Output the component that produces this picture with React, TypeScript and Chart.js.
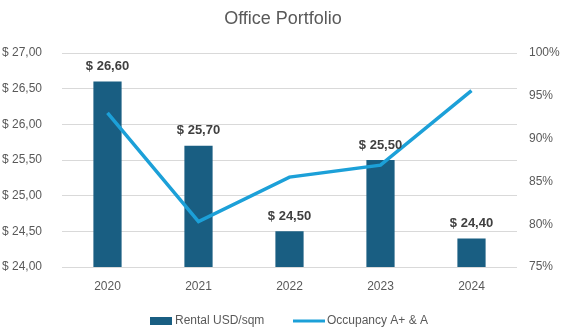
import React, { useEffect, useRef } from "react";
import { Chart, registerables } from "chart.js";

Chart.register(...registerables);

const years = ["2020", "2021", "2022", "2023", "2024"];
const rental = [26.6, 25.7, 24.5, 25.5, 24.4];
const occupancy = [0.93, 0.803, 0.855, 0.869, 0.956];
const titleText = "Office Portfolio";
const rentalLabel = "Rental USD/sqm";
const occLabel = "Occupancy A+ & A";

const BAR = "#195E82";
const LINE = "#1CA0D8";
const TXT = "#595959";
const FONT = "'Liberation Sans', Arial, sans-serif";

const fmtMoney = (v: number) => "$ " + v.toFixed(2).replace(".", ",");

const customPlugin = {
  id: "custom",
  afterDatasetsDraw(chart: any) {
    const ctx = chart.ctx;
    const meta = chart.getDatasetMeta(0);
    ctx.save();
    ctx.fillStyle = "#404040";
    ctx.font = `bold 13px ${FONT}`;
    ctx.textAlign = "center";
    ctx.textBaseline = "middle";
    meta.data.forEach((bar: any, i: number) => {
      ctx.fillText(fmtMoney(rental[i]), bar.x, bar.y - 15);
    });
    ctx.restore();
  },
  afterDraw(chart: any) {
    const ctx = chart.ctx;
    ctx.save();
    ctx.fillStyle = TXT;
    ctx.font = `18px ${FONT}`;
    ctx.textAlign = "center";
    ctx.textBaseline = "middle";
    ctx.fillText(titleText, 283, 19);
    const y = 321;
    ctx.font = `12px ${FONT}`;
    ctx.textAlign = "left";
    ctx.fillStyle = BAR;
    ctx.fillRect(150, y - 4, 22, 8);
    ctx.fillStyle = TXT;
    ctx.fillText(rentalLabel, 175, y);
    ctx.strokeStyle = LINE;
    ctx.lineWidth = 3;
    ctx.beginPath();
    ctx.moveTo(293, y);
    ctx.lineTo(325, y);
    ctx.stroke();
    ctx.fillText(occLabel, 327, y);
    ctx.restore();
  },
};

export default function App() {
  const ref = useRef<HTMLCanvasElement>(null);
  useEffect(() => {
    document.body.style.margin = "0";
    const chart = new Chart(ref.current!, {
      data: {
        labels: years,
        datasets: [
          {
            type: "bar",
            label: rentalLabel,
            data: rental,
            backgroundColor: BAR,
            yAxisID: "y",
            barPercentage: 0.31,
            categoryPercentage: 1,
            order: 2,
          },
          {
            type: "line",
            label: occLabel,
            data: occupancy,
            borderColor: LINE,
            backgroundColor: LINE,
            borderWidth: 3.5,
            pointRadius: 0,
            tension: 0,
            yAxisID: "y1",
            order: 1,
          },
        ],
      } as any,
      options: {
        animation: false,
        responsive: false,
        layout: { padding: { top: 53, bottom: 38, left: 0, right: 0 } },
        plugins: { legend: { display: false }, title: { display: false }, tooltip: { enabled: false } },
        scales: {
          x: {
            grid: { display: false },
            border: { display: false },
            ticks: { color: TXT, font: { size: 12, family: FONT }, padding: 4 },
            afterFit: (s: any) => { s.height = 30; },
          },
          y: {
            position: "left",
            min: 24,
            max: 27,
            ticks: {
              stepSize: 0.5,
              color: TXT,
              font: { size: 12, family: FONT },
              callback: (v: any) => fmtMoney(Number(v)),
              padding: 20,
            },
            grid: { color: "#D9D9D9", drawTicks: false },
            border: { display: false },
            afterFit: (s: any) => { s.width = 62; },
          },
          y1: {
            position: "right",
            min: 0.75,
            max: 1,
            ticks: {
              stepSize: 0.05,
              color: TXT,
              font: { size: 12, family: FONT },
              callback: (v: any) => Math.round(Number(v) * 100) + "%",
              padding: 12,
            },
            grid: { display: false, drawTicks: false },
            border: { display: false },
            afterFit: (s: any) => { s.width = 50; },
          },
        },
      } as any,
      plugins: [customPlugin],
    });
    return () => chart.destroy();
  }, []);
  return (
    <div style={{ width: 567, height: 335 }}>
      <canvas ref={ref} width={567} height={335} style={{ width: 567, height: 335, display: "block" }} />
    </div>
  );
}
